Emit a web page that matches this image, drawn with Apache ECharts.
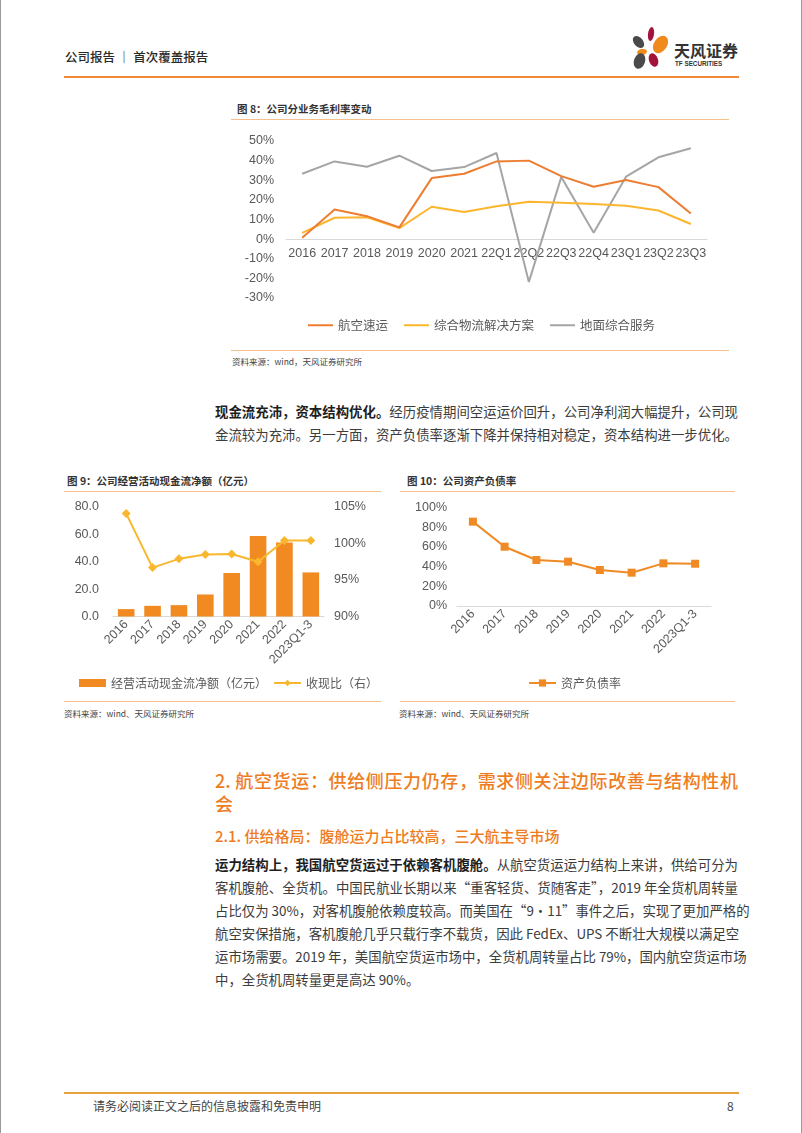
<!DOCTYPE html>
<html><head><meta charset="utf-8">
<script src="https://cdn.jsdelivr.net/npm/echarts@6/dist/echarts.min.js"></script>
<style>
html,body{margin:0;padding:0;background:#fff;}
#page{position:relative;width:802px;height:1133px;overflow:hidden;font-family:"Noto Sans CJK SC","Noto Sans",sans-serif;box-sizing:border-box;border-left:1px solid #9a9a9a;border-right:1px solid #9a9a9a;}
.abs{position:absolute;white-space:nowrap;}
.ln{position:absolute;left:214px;width:523px;height:20px;line-height:20px;font-size:13.4px;color:#3c3c3c;text-align:justify;text-align-last:justify;white-space:nowrap;}
.ln.last{text-align-last:left;}
.b{font-weight:700;color:#1e1e1e;}
.rule{position:absolute;height:1px;background:#F5C08E;}
.petal{position:absolute;border-radius:50%;}
.ttl{position:absolute;font-size:10.5px;font-weight:700;color:#333;white-space:nowrap;}
.src{position:absolute;font-size:8.5px;color:#444;white-space:nowrap;}
.chart{position:absolute;}
</style></head>
<body><div id="page">
<div class="abs" style="left:64px;top:48px;font-size:12.5px;color:#2a2a2a;line-height:18px;font-weight:500;">公司报告 ｜ 首次覆盖报告</div>
<div style="position:absolute;left:63px;top:76px;width:675px;height:2px;background:#EE8A3A;"></div>
<div class="petal" style="left:647px;top:27px;width:6px;height:14px;background:#A3123A;transform:rotate(8deg);"></div>
<div class="petal" style="left:633px;top:35px;width:9px;height:14px;background:#4a4a4a;transform:rotate(-40deg);"></div>
<div class="petal" style="left:653px;top:35px;width:13px;height:19px;background:#F08A1C;transform:rotate(35deg);"></div>
<div class="petal" style="left:636px;top:49px;width:10px;height:6px;background:#F08A1C;transform:rotate(-10deg);"></div>
<div class="petal" style="left:648px;top:53px;width:9px;height:14px;background:#A3123A;transform:rotate(-20deg);"></div>
<div class="petal" style="left:633px;top:53px;width:11px;height:16px;background:#4a4a4a;transform:rotate(20deg);"></div>
<div class="abs" style="left:673px;top:40px;font-size:16px;font-weight:700;color:#333;line-height:20px;">天风证券</div>
<div class="abs" style="left:674px;top:60px;font-size:6.3px;font-weight:700;color:#333;line-height:8px;font-family:'Liberation Sans',sans-serif;">TF SECURITIES</div>

<div class="ttl" style="left:236px;top:101px;">图 8：公司分业务毛利率变动</div>
<div class="rule" style="left:230px;top:119px;width:498px;"></div>
<div id="c1" class="chart" style="left:220px;top:125px;width:520px;height:220px;"></div>
<div class="rule" style="left:230px;top:350px;width:498px;"></div>
<div class="src" style="left:231px;top:355px;">资料来源：wind，天风证券研究所</div>

<div class="ln" style="top:401px;"><span class="b">现金流充沛，资本结构优化。</span>经历疫情期间空运运价回升，公司净利润大幅提升，公司现</div>
<div class="ln" style="top:424px;">金流较为充沛。另一方面，资产负债率逐渐下降并保持相对稳定，资本结构进一步优化。</div>

<div class="ttl" style="left:66px;top:473px;">图 9：公司经营活动现金流净额（亿元）</div>
<div class="rule" style="left:63px;top:491px;width:317px;"></div>
<div id="c2" class="chart" style="left:60px;top:495px;width:330px;height:200px;"></div>
<div class="rule" style="left:63px;top:701px;width:317px;"></div>
<div class="src" style="left:63px;top:707px;">资料来源：wind、天风证券研究所</div>

<div class="ttl" style="left:406px;top:473px;">图 10：公司资产负债率</div>
<div class="rule" style="left:399px;top:491px;width:335px;"></div>
<div id="c3" class="chart" style="left:395px;top:495px;width:340px;height:200px;"></div>
<div class="rule" style="left:399px;top:701px;width:335px;"></div>
<div class="src" style="left:398px;top:707px;">资料来源：wind、天风证券研究所</div>

<div class="ln" style="top:768px;height:24px;line-height:24px;font-size:18px;color:#EE7D22;font-weight:500;">2. 航空货运：供给侧压力仍存，需求侧关注边际改善与结构性机</div>
<div class="ln last" style="top:791px;height:24px;line-height:24px;font-size:18px;color:#EE7D22;font-weight:500;">会</div>
<div class="abs" style="left:214px;top:826px;font-size:15px;line-height:20px;color:#EE7D22;font-weight:500;">2.1. 供给格局：腹舱运力占比较高，三大航主导市场</div>

<div class="ln" style="top:854px;"><span class="b">运力结构上，我国航空货运过于依赖客机腹舱。</span>从航空货运运力结构上来讲，供给可分为</div>
<div class="ln" style="top:877px;">客机腹舱、全货机。中国民航业长期以来“重客轻货、货随客走”，2019 年全货机周转量</div>
<div class="ln" style="top:900px;">占比仅为 30%，对客机腹舱依赖度较高。而美国在“9·11”事件之后，实现了更加严格的</div>
<div class="ln" style="top:923px;">航空安保措施，客机腹舱几乎只载行李不载货，因此 FedEx、UPS 不断壮大规模以满足空</div>
<div class="ln" style="top:946px;">运市场需要。2019 年，美国航空货运市场中，全货机周转量占比 79%，国内航空货运市场</div>
<div class="ln last" style="top:969px;">中，全货机周转量更是高达 90%。</div>

<div style="position:absolute;left:63px;top:1092px;width:675px;height:2px;background:#E9A23B;"></div>
<div class="abs" style="left:92px;top:1098px;font-size:12px;line-height:16px;color:#444;">请务必阅读正文之后的信息披露和免责申明</div>
<div class="abs" style="left:726px;top:1098px;font-size:12px;line-height:16px;color:#444;">8</div>
</div>
<script>
// Chart 8 data
var cat8 = ['2016','2017','2018','2019','2020','2021','22Q1','22Q2','22Q3','22Q4','23Q1','23Q2','23Q3'];
var air8 = [0.7,15.1,11.7,6.0,31.1,33.3,39.6,40.0,32.1,26.7,30.1,26.5,13.1];
var logi8 = [3.2,10.9,11.1,5.6,16.5,13.8,16.8,19.0,18.5,17.9,17.0,14.6,7.7];
var ground8 = [33.3,39.6,36.9,42.5,34.7,36.7,43.9,-21.8,31.6,3.2,31.8,41.7,46.3];
var names8 = ['航空速运','综合物流解决方案','地面综合服务'];
var yMin8 = -30, yMax8 = 50;
// Chart 9 data
var cat9 = ['2016','2017','2018','2019','2020','2021','2022','2023Q1-3'];
var cash9 = [5.4,7.8,8.3,16.1,31.8,58.9,54.0,32.2];
var ratio9 = [104.1,96.7,97.9,98.5,98.55,97.5,100.4,100.4];
var names9 = ['经营活动现金流净额（亿元）','收现比（右）'];
// Chart 10 data
var cat10 = ['2016','2017','2018','2019','2020','2021','2022','2023Q1-3'];
var debt10 = [85.8,60.3,46.8,45.1,36.6,33.9,43.4,43.0];
var names10 = ['资产负债率'];

var NUMF = 'Liberation Sans, Arial, sans-serif';
var CJKF = 'Noto Sans CJK SC, sans-serif';
var LAB = '#595959';

var gH8 = 157;
var zeroOffset8 = gH8 * (0 - yMin8) / (yMax8 - yMin8);
var c1 = echarts.init(document.getElementById('c1'));
c1.setOption({
  animation:false,
  grid:{left:65,top:16,width:421,height:gH8},
  legend:{left:82,top:189,itemWidth:25,itemHeight:2,itemGap:16,icon:'rect',textStyle:{fontFamily:CJKF,fontSize:12.5,color:LAB},data:names8},
  xAxis:{type:'category',data:cat8,boundaryGap:true,position:'bottom',offset:-zeroOffset8,axisLine:{onZero:false,lineStyle:{color:'#D9D9D9',width:1}},axisTick:{show:false},
    axisLabel:{margin:8,fontFamily:NUMF,fontSize:12.5,color:LAB,interval:0}},
  yAxis:{type:'value',min:yMin8,max:yMax8,interval:10,axisLine:{show:false},axisTick:{show:false},splitLine:{show:false},
    axisLabel:{margin:12,fontFamily:NUMF,fontSize:12.5,color:LAB,formatter:'{value}%'}},
  series:[
    {name:names8[0],type:'line',data:air8,symbol:'none',lineStyle:{color:'#ED7D31',width:2},itemStyle:{color:'#ED7D31'},z:3},
    {name:names8[1],type:'line',data:logi8,symbol:'none',lineStyle:{color:'#FBB62E',width:2},itemStyle:{color:'#FBB62E'},z:2},
    {name:names8[2],type:'line',data:ground8,symbol:'none',lineStyle:{color:'#A5A5A5',width:2},itemStyle:{color:'#A5A5A5'},z:1}
  ]
});

var c2 = echarts.init(document.getElementById('c2'));
c2.setOption({
  animation:false,
  grid:{left:52,top:12,width:211,height:109.5},
  legend:{left:13,top:177,itemGap:6,itemWidth:27,itemHeight:8,textStyle:{fontFamily:CJKF,fontSize:12,color:LAB},
    data:[{name:names9[0],icon:'rect'},{name:names9[1]}]},
  xAxis:{type:'category',data:cat9,axisLine:{lineStyle:{color:'#D9D9D9'}},axisTick:{show:false},
    axisLabel:{rotate:45,margin:6,fontFamily:NUMF,fontSize:12.5,color:LAB,interval:0}},
  yAxis:[
    {type:'value',min:0,max:80,interval:20,axisLine:{show:false},axisTick:{show:false},splitLine:{show:false},
      axisLabel:{margin:14,fontFamily:NUMF,fontSize:12.5,color:LAB,formatter:function(v){return v.toFixed(1);}}},
    {type:'value',min:90,max:105,interval:5,position:'right',axisLine:{show:false},axisTick:{show:false},splitLine:{show:false},
      axisLabel:{margin:10,fontFamily:NUMF,fontSize:12.5,color:LAB,formatter:'{value}%'}}
  ],
  series:[
    {name:names9[0],type:'bar',data:cash9,barWidth:'63%',itemStyle:{color:'#F28A22'}},
    {name:names9[1],type:'line',yAxisIndex:1,data:ratio9,symbol:'diamond',symbolSize:9,lineStyle:{color:'#F9B72F',width:2},itemStyle:{color:'#F9B72F'}}
  ]
});

var c3 = echarts.init(document.getElementById('c3'));
c3.setOption({
  animation:false,
  grid:{left:61,top:12.7,width:254,height:98.3},
  legend:{left:127,top:177,itemWidth:27,itemHeight:9,textStyle:{fontFamily:CJKF,fontSize:12,color:LAB},data:names10},
  xAxis:{type:'category',data:cat10,axisLine:{lineStyle:{color:'#D9D9D9'}},axisTick:{show:false},
    axisLabel:{rotate:45,margin:6,fontFamily:NUMF,fontSize:12.5,color:LAB,interval:0}},
  yAxis:{type:'value',min:0,max:100,interval:20,axisLine:{show:false},axisTick:{show:false},splitLine:{show:false},
    axisLabel:{margin:10,fontFamily:NUMF,fontSize:12.5,color:LAB,formatter:'{value}%'}},
  series:[
    {name:names10[0],type:'line',data:debt10,symbol:'rect',symbolSize:8,lineStyle:{color:'#F08A24',width:2},itemStyle:{color:'#F08A24'}}
  ]
});
</script>
</body></html>
